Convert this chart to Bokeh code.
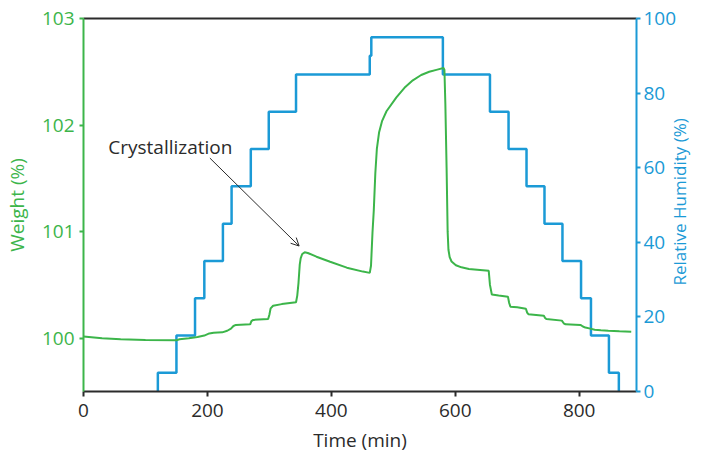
from math import pi

from bokeh.plotting import figure
from bokeh.models import Range1d, LinearAxis, FixedTicker, Arrow, OpenHead, Label
from bokeh.embed import file_html
from bokeh.resources import INLINE

# Sample weight trace during the humidity cycle (time in min, weight in %)
time_min = [0, 30, 60, 100, 150, 155, 170, 184, 195, 203, 210, 224, 232, 238, 242,
            246, 269, 271, 274, 298, 300, 302, 306, 320, 343, 345, 347, 349, 350.5,
            353, 357, 362, 376, 398, 425, 451, 462, 464, 466.4, 468.5, 471, 473.5,
            477, 482, 489, 505, 518, 531.5, 545, 558, 571, 581, 582.5, 584, 586,
            587.7, 589, 591, 594, 601, 610, 622, 640, 654, 656, 659, 670, 685, 687,
            689, 700, 714, 716, 718, 743, 745, 747, 772, 775, 778, 802, 806, 810,
            818, 825, 835, 847, 865, 884]
weight_pct = [100.015, 100.0, 99.99, 99.983, 99.98, 99.99, 100.0, 100.012, 100.025,
              100.045, 100.052, 100.055, 100.07, 100.09, 100.115, 100.125, 100.13,
              100.16, 100.172, 100.18, 100.22, 100.28, 100.305, 100.32, 100.337, 100.40,
              100.52, 100.69, 100.75, 100.79, 100.806, 100.80, 100.765, 100.718, 100.662,
              100.625, 100.613, 100.68, 100.99, 101.2, 101.55, 101.78, 101.93, 102.04,
              102.13, 102.26, 102.35, 102.42, 102.47, 102.50, 102.52, 102.535, 102.52,
              102.2, 101.6, 101.0, 100.83, 100.76, 100.72, 100.685, 100.665, 100.65,
              100.64, 100.632, 100.50, 100.41, 100.40, 100.39, 100.33, 100.296, 100.29,
              100.277, 100.24, 100.225, 100.21, 100.19, 100.18, 100.165, 100.14, 100.13,
              100.125, 100.11, 100.10, 100.09, 100.08, 100.075, 100.07, 100.065, 100.06]

# Relative humidity set points (step changes, held until the next time)
rh_time = [120, 120, 150, 180, 195, 225, 239, 270, 299, 343, 462, 464.5, 580, 656,
           686, 715, 744, 773, 803, 819, 848, 864]
rh_pct = [0, 5, 15, 25, 35, 45, 55, 65, 75, 85, 90, 95, 85, 75, 65, 55, 45, 35, 25,
          15, 5, 0]

x_ticks = [0, 200, 400, 600, 800]
weight_ticks = [100, 101, 102, 103]
rh_ticks = [0, 20, 40, 60, 80, 100]

GREEN = "#3cb54a"
BLUE = "#1b9ad6"
DARK = "#2b2b2b"
FONT = "Open Sans"
SIZE = "19px"

p = figure(width=705, height=459, output_backend="svg", toolbar_location=None,
           x_range=Range1d(0, 892.5), y_range=Range1d(99.5, 103),
           min_border_left=82, min_border_right=67, min_border_top=18,
           min_border_bottom=68)
p.extra_y_ranges = {"rh": Range1d(0, 100)}
p.xgrid.visible = False
p.ygrid.visible = False
p.outline_line_color = None
p.background_fill_color = "white"
p.border_fill_color = "white"

# humidity profile (right axis)
p.step(rh_time, rh_pct, mode="after", y_range_name="rh",
       line_color=BLUE, line_width=2.5)
# weight trace (left axis)
p.line(time_min, weight_pct, line_color=GREEN, line_width=2)

def style(ax, color, label_color):
    ax.axis_line_color = color
    ax.axis_line_width = 2
    ax.major_tick_line_color = color
    ax.major_tick_line_width = 2
    ax.major_tick_in = 0
    ax.major_tick_out = 4
    ax.minor_tick_line_color = None
    ax.major_label_text_font = FONT
    ax.major_label_text_font_size = SIZE
    ax.major_label_text_color = label_color
    ax.axis_label_text_font = FONT
    ax.axis_label_text_font_size = SIZE
    ax.axis_label_text_font_style = "normal"
    ax.axis_label_text_color = label_color

xax = p.xaxis[0]
style(xax, DARK, DARK)
xax.ticker = FixedTicker(ticks=x_ticks)
xax.axis_label = "Time (min)"
xax.major_tick_out = 5
xax.major_label_standoff = 7
xax.axis_label_standoff = 7

yax = p.yaxis[0]
style(yax, GREEN, GREEN)
yax.ticker = FixedTicker(ticks=weight_ticks)
yax.axis_label = "Weight (%)"
yax.major_label_standoff = 5
yax.axis_label_standoff = 9

# right axis for humidity; its title reads bottom to top and is anchored at
# the foot of the axis, lifted by a run of no-break spaces
rax = LinearAxis(y_range_name="rh", ticker=FixedTicker(ticks=rh_ticks),
                 axis_label="\u00a0" * 24 + "Relative Humidity (%)")
style(rax, BLUE, BLUE)
rax.major_label_standoff = 3
rax.axis_label_standoff = 0
rax.axis_label_text_font_size = "17px"
rax.axis_label_orientation = pi / 2
rax.axis_label_align = "start"
p.add_layout(rax, "right")

top = LinearAxis(ticker=FixedTicker(ticks=[]), major_label_text_font_size="0px",
                 major_tick_out=0, major_tick_in=0, minor_tick_out=0,
                 axis_line_color=DARK, axis_line_width=2)
p.add_layout(top, "above")

p.add_layout(Arrow(end=OpenHead(size=8, line_width=1, line_color=DARK),
                   x_start=204, y_start=101.69, x_end=348, y_end=100.865,
                   line_color=DARK, line_width=1))
p.add_layout(Label(x=40, y=101.796, text="Crystallization", text_font=FONT,
                   text_font_size=SIZE, text_color=DARK,
                   text_baseline="alphabetic"))

open("out.html", "w").write(file_html(p, INLINE))
